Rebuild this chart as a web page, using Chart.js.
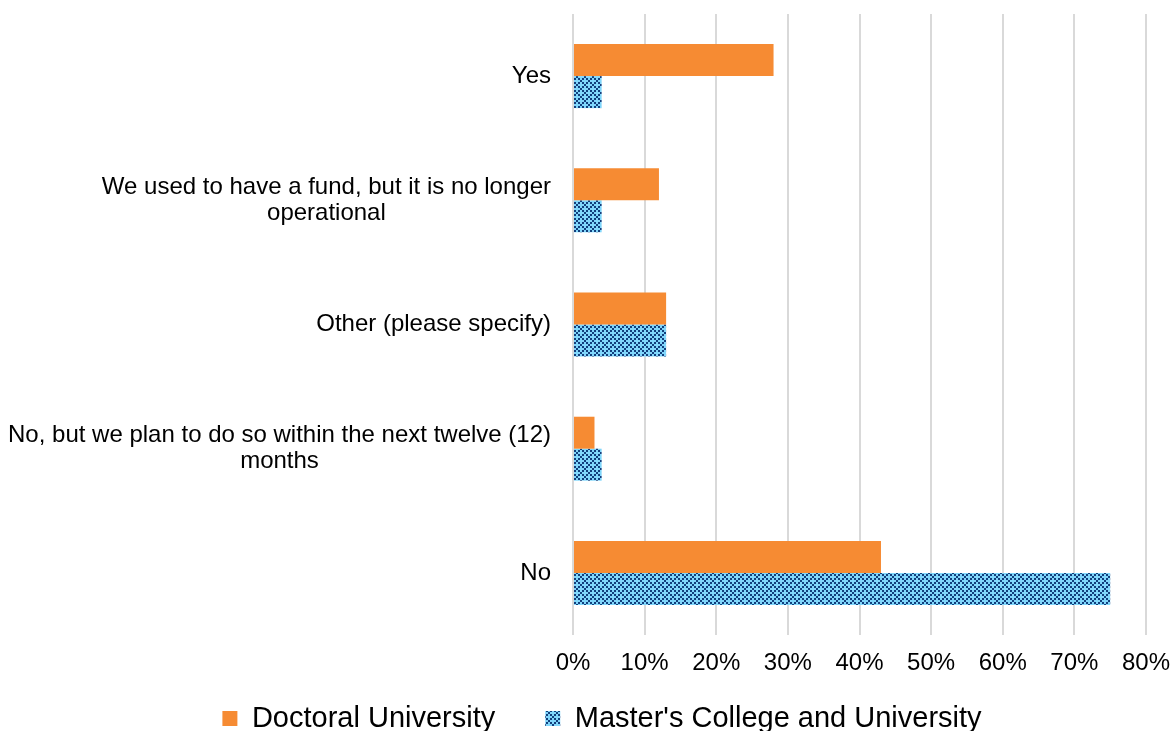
<!DOCTYPE html>
<html lang="en">
<head>
    <meta charset="UTF-8">
    <title>Fund chart</title>
    <script src="https://cdn.jsdelivr.net/npm/chart.js"></script>
<style>
    body{
        margin:0;
        background:#fff;
    }
    #fundChart{
        display:block;
    }
</style>
</head>
<body>
    <canvas id="fundChart" width="1172" height="731"></canvas>
    <script>
        const categories=[
            "Yes",
            ["We used to have a fund, but it is no longer","operational"],
            "Other (please specify)",
            ["No, but we plan to do so within the next twelve (12)","months"],
            "No"
        ]
        const doctoral=[28,12,13,3,43]
        const masters=[4,4,13,4,75]
        const seriesNames=["Doctoral University","Master's College and University"]

        const font='"Liberation Sans", Arial, sans-serif'

        // small blue checker tile, like the excel pattern fill
        function makePattern(){
            const c=document.createElement("canvas")
            c.width=8;c.height=8
            const g=c.getContext("2d")
            g.fillStyle="#80d6fb"
            g.fillRect(0,0,8,8)
            g.fillStyle="#123f7d"
            for(let bx=0;bx<4;bx++){
                for(let by=0;by<4;by++){
                    if((bx+by)%2!=0)continue
                    if((bx==0&&by==0)||(bx==2&&by==2))continue
                    g.fillRect(bx*2,by*2,2,2)
                }
            }
            return g.createPattern(c,"repeat")
        }

        // draws the y labels, multi-line ones centred on their own block
        const yLabels={
            id:"yLabels",
            afterDraw(chart){
                const ctx=chart.ctx
                const y=chart.scales.y
                ctx.save()
                ctx.font="24px "+font
                ctx.fillStyle="#000"
                ctx.textAlign="center"
                ctx.textBaseline="middle"
                categories.forEach((lab,i)=>{
                    const lines=Array.isArray(lab)?lab:[lab]
                    const w=Math.max(...lines.map(l=>ctx.measureText(l).width))
                    const cx=y.right-22-w/2
                    const cy=y.getPixelForValue(i)
                    lines.forEach((l,j)=>{
                        ctx.fillText(l,cx,cy+(j-(lines.length-1)/2)*26)
                    })
                })
                ctx.restore()
            }
        }

        // legend sits closer to the axis than chart.js would put it
        const legendUp={
            id:"legendUp",
            afterLayout(chart){
                const lg=chart.legend
                const shift=lg.top-(chart.chartArea.bottom+19)
                lg.top-=shift
                lg.bottom-=shift
            }
        }

        const ctx=document.getElementById("fundChart").getContext("2d")
        new Chart(ctx,{
            type:"bar",
            data:{
                labels:categories,
                datasets:[{
                    label:seriesNames[0],
                    data:doctoral,
                    backgroundColor:"#f68b33",
                    borderWidth:0
                },{
                    label:seriesNames[1],
                    data:masters,
                    backgroundColor:makePattern(),
                    borderWidth:0
                }]
            },
            options:{
                indexAxis:"y",
                responsive:false,
                animation:false,
                categoryPercentage:0.515,
                barPercentage:1,
                layout:{
                    padding:{top:14,left:58,right:26,bottom:-37}
                },
                scales:{
                    x:{
                        min:0,
                        max:80,
                        ticks:{
                            stepSize:10,
                            padding:14,
                            color:"#000",
                            font:{family:font,size:24},
                            callback:v=>v+"%"
                        },
                        grid:{color:"#d9d9d9",lineWidth:2,drawTicks:false},
                        border:{display:false},
                        afterFit:s=>{
                            s.height=44
                            s.paddingLeft=0
                            s.paddingRight=0
                        }
                    },
                    y:{
                        ticks:{display:false},
                        grid:{display:false},
                        border:{display:false},
                        afterFit:s=>{s.width=515}
                    }
                },
                plugins:{
                    tooltip:{enabled:false},
                    legend:{
                        position:"bottom",
                        labels:{
                            boxWidth:15,
                            boxHeight:15,
                            padding:50,
                            color:"#000",
                            font:{family:font,size:29}
                        }
                    }
                }
            },
            plugins:[yLabels,legendUp]
        })
    </script>
</body>
</html>
